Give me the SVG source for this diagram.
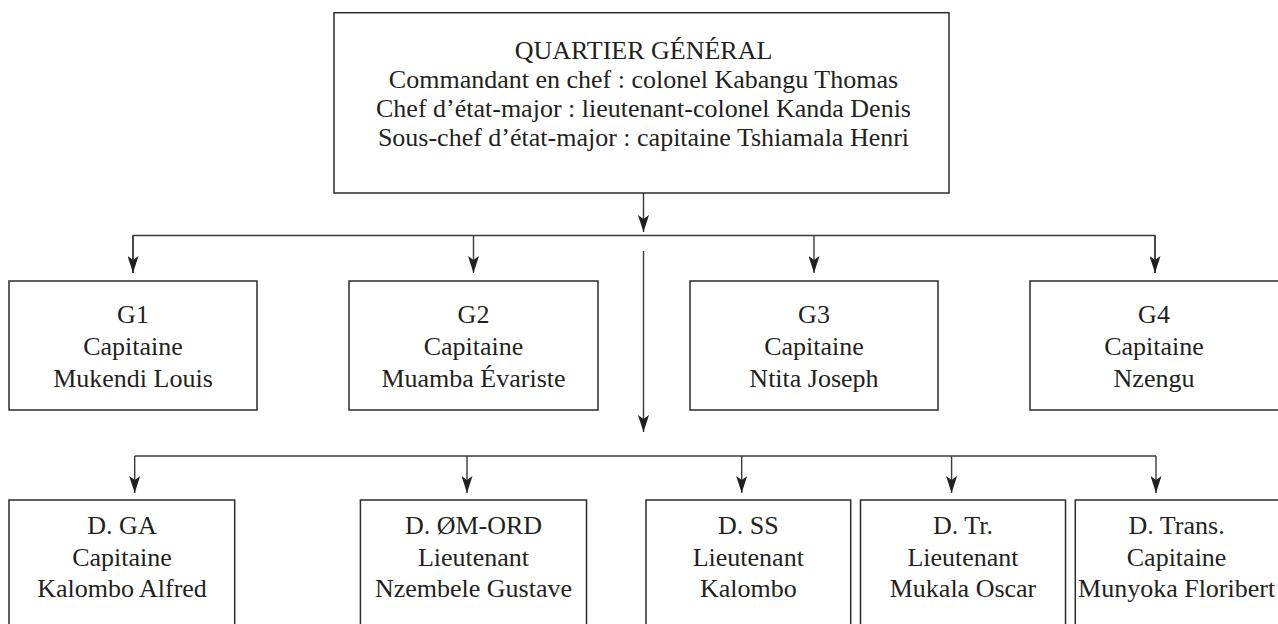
<svg xmlns="http://www.w3.org/2000/svg" width="1278" height="624" viewBox="0 0 1278 624">
<style>
.box{fill:#fff;stroke:#2b2b2b;stroke-width:1.5}
.t{font-family:"Liberation Serif","Times New Roman",serif;font-size:26px;fill:#231f20;text-anchor:middle}
.c{fill:none;stroke:#3a3a3a;stroke-width:1.4}
</style>
<defs>
<marker id="ah" viewBox="0 0 11 17" refX="5.5" refY="17" markerWidth="11" markerHeight="17" markerUnits="userSpaceOnUse" orient="auto-start-reverse">
<path d="M0,0 L11,0 L5.5,17 Z" fill="#231f20" transform="rotate(0)"/>
</marker>
<marker id="ad" viewBox="0 0 11 17" refX="5.5" refY="17" markerWidth="11" markerHeight="17" markerUnits="userSpaceOnUse" orient="0">
<path d="M0,0 L5.5,4 L11,0 L5.5,17 Z" fill="#231f20"/>
</marker>
</defs>
<rect width="1278" height="624" fill="#fff"/>
<g id="connectors">
<path class="c" d="M643.5,193 V232" marker-end="url(#ad)"/>
<path class="c" d="M133,273 V235.5 H1155 V273"/>
<path class="c" d="M473.5,235.5 V273" marker-end="url(#ad)"/>
<path class="c" d="M814,235.5 V273" marker-end="url(#ad)"/>
<path class="c" d="M133,236 V273" marker-end="url(#ad)"/>
<path class="c" d="M1155,236 V273" marker-end="url(#ad)"/>
<path class="c" d="M643.5,251 V432" marker-end="url(#ad)"/>
<path class="c" d="M134.7,456 H1156"/>
<path class="c" d="M134.7,456 V493" marker-end="url(#ad)"/>
<path class="c" d="M467,456 V493" marker-end="url(#ad)"/>
<path class="c" d="M741.7,456 V493" marker-end="url(#ad)"/>
<path class="c" d="M951.6,456 V493" marker-end="url(#ad)"/>
<path class="c" d="M1156,456 V493" marker-end="url(#ad)"/>
</g>
<g id="qg">
<rect class="box" x="334" y="12.7" width="615" height="180.3"/>
<text class="t" x="643.5" y="59">QUARTIER GÉNÉRAL</text>
<text class="t" x="643.5" y="88">Commandant en chef : colonel Kabangu Thomas</text>
<text class="t" x="643.5" y="117">Chef d’état-major : lieutenant-colonel Kanda Denis</text>
<text class="t" x="643.5" y="146">Sous-chef d’état-major : capitaine Tshiamala Henri</text>
</g>
<g id="g1">
<rect class="box" x="9" y="281" width="248" height="129"/>
<text class="t" x="133" y="323">G1</text>
<text class="t" x="133" y="355">Capitaine</text>
<text class="t" x="133" y="387">Mukendi Louis</text>
</g>
<g id="g2">
<rect class="box" x="349" y="281" width="249" height="129"/>
<text class="t" x="473.5" y="323">G2</text>
<text class="t" x="473.5" y="355">Capitaine</text>
<text class="t" x="473.5" y="387">Muamba Évariste</text>
</g>
<g id="g3">
<rect class="box" x="690" y="281" width="248" height="129"/>
<text class="t" x="814" y="323">G3</text>
<text class="t" x="814" y="355">Capitaine</text>
<text class="t" x="814" y="387">Ntita Joseph</text>
</g>
<g id="g4">
<rect class="box" x="1030" y="281" width="250" height="129"/>
<text class="t" x="1154" y="323">G4</text>
<text class="t" x="1154" y="355">Capitaine</text>
<text class="t" x="1154" y="387">Nzengu</text>
</g>
<g id="dga">
<rect class="box" x="9" y="500" width="225.7" height="130"/>
<text class="t" x="122" y="534">D. GA</text>
<text class="t" x="122" y="566">Capitaine</text>
<text class="t" x="122" y="597">Kalombo Alfred</text>
</g>
<g id="dom">
<rect class="box" x="360.4" y="500" width="226.1" height="130"/>
<text class="t" x="473.5" y="534">D. ØM-ORD</text>
<text class="t" x="473.5" y="566">Lieutenant</text>
<text class="t" x="473.5" y="597">Nzembele Gustave</text>
</g>
<g id="dss">
<rect class="box" x="646" y="500" width="204.7" height="130"/>
<text class="t" x="748.3" y="534">D. SS</text>
<text class="t" x="748.3" y="566">Lieutenant</text>
<text class="t" x="748.3" y="597">Kalombo</text>
</g>
<g id="dtr">
<rect class="box" x="860.5" y="500" width="205" height="130"/>
<text class="t" x="963" y="534">D. Tr.</text>
<text class="t" x="963" y="566">Lieutenant</text>
<text class="t" x="963" y="597">Mukala Oscar</text>
</g>
<g id="dtrans">
<rect class="box" x="1075.3" y="500" width="205" height="130"/>
<text class="t" x="1176.6" y="534">D. Trans.</text>
<text class="t" x="1176.6" y="566">Capitaine</text>
<text class="t" x="1176.6" y="597">Munyoka Floribert</text>
</g>
</svg>
